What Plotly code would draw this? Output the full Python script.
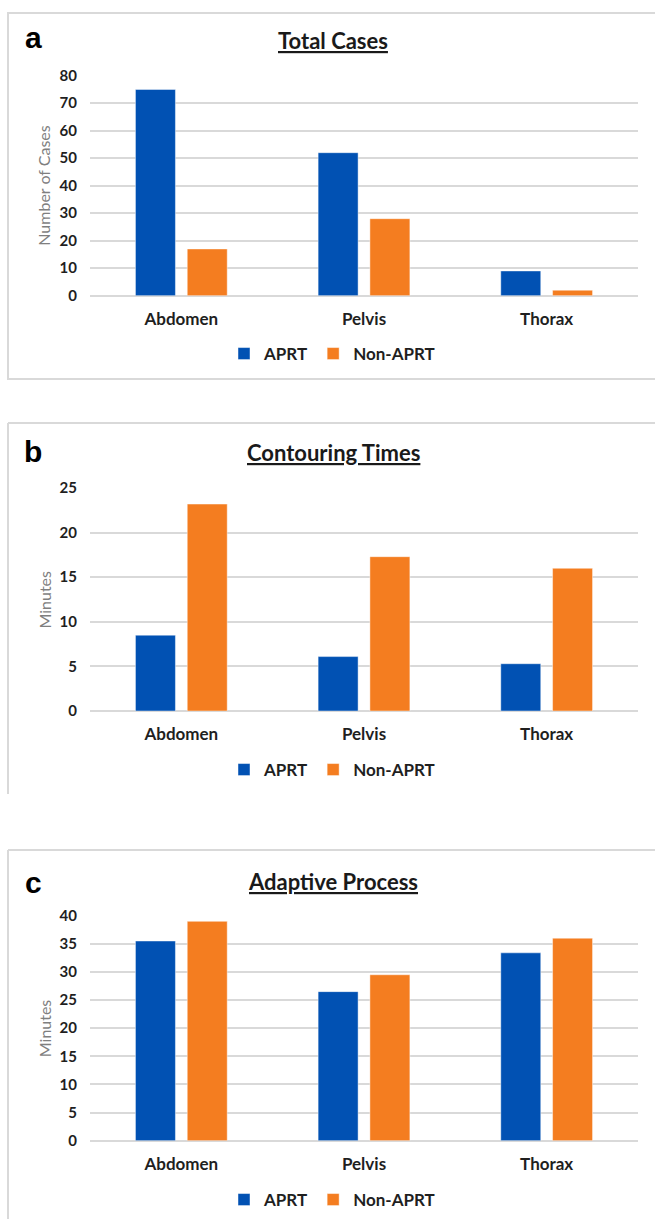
import plotly.graph_objects as go

W, H = 655, 1219

categories = ["Abdomen", "Pelvis", "Thorax"]
series_names = ["APRT", "Non-APRT"]

total_aprt = [75, 52, 9]
total_non = [17, 28, 2]
contour_aprt = [8.5, 6.1, 5.3]
contour_non = [23.2, 17.3, 16.0]
adaptive_aprt = [35.5, 26.5, 33.4]
adaptive_non = [39.0, 29.5, 36.0]

titles = ["Total Cases", "Contouring Times", "Adaptive Process"]
letters = ["a", "b", "c"]
ytitles = ["Number of Cases", "Minutes", "Minutes"]
yranges = [[0, 80], [0, 25], [0, 40]]
ydticks = [10, 5, 5]

BLUE = "#0151B3"
ORANGE = "#F47D20"
GRID = "#D9D9D9"
FONT = "Lato, 'Open Sans', sans-serif"

panels = [
    dict(top=75.7, bot=295.7, ty=41, ly=38, lgy=354, box=(13, 379), closed=True),
    dict(top=488, bot=711, ty=453, ly=451, lgy=770, box=(423, 794), closed=False),
    dict(top=915.7, bot=1140.7, ty=881, ly=882, lgy=1200, box=(850, 1230), closed=False),
]
X0, X1 = 90, 638

def fx(px):
    return px / W

def fy(py):
    return 1 - py / H

data_sets = [(total_aprt, total_non), (contour_aprt, contour_non), (adaptive_aprt, adaptive_non)]

fig = go.Figure()
layout = dict(
    width=W, height=H, autosize=False,
    margin=dict(l=0, r=0, t=0, b=0, pad=0, autoexpand=False),
    paper_bgcolor="white", plot_bgcolor="white",
    barmode="group", bargap=0.433, bargroupgap=0.228,
    showlegend=True,
    font=dict(family=FONT, color="#262626"),
)
annotations = []
shapes = []

for i, (p, (a_vals, n_vals)) in enumerate(zip(panels, data_sets)):
    k = "" if i == 0 else str(i + 1)
    xa, ya = "x" + k, "y" + k
    lg = "legend" + k
    for name, vals, col in [(series_names[0], a_vals, BLUE), (series_names[1], n_vals, ORANGE)]:
        fig.add_trace(go.Bar(
            x=categories, y=vals, name=name, xaxis=xa, yaxis=ya, legend=lg,
            marker=dict(color=col, line=dict(color="rgba(255,255,255,0.45)", width=1)),
        ))
    layout["xaxis" + k] = dict(
        domain=[fx(X0), fx(X1)], anchor=ya, showgrid=False, zeroline=False,
        showline=False, ticks="", ticklabelstandoff=11, automargin=False,
        tickfont=dict(family=FONT, size=17, color="#1f1f1f", weight="bold"),
        fixedrange=True,
    )
    layout["yaxis" + k] = dict(
        domain=[fy(p["bot"]), fy(p["top"])], anchor=xa, range=yranges[i],
        dtick=ydticks[i], tick0=0, showgrid=True, gridcolor=GRID, gridwidth=2,
        zeroline=True, zerolinecolor=GRID, zerolinewidth=2, showline=False,
        ticks="", ticklabelstandoff=12, automargin=False,
        tickfont=dict(family=FONT, size=15, color="#1f1f1f", weight="bold"),
        fixedrange=True,
    )
    layout[lg] = dict(
        orientation="h", x=fx(332), y=fy(p["lgy"]), xanchor="center", yanchor="middle",
        xref="paper", yref="paper",
        font=dict(family=FONT, size=17, color="#1f1f1f", weight="bold"),
        itemwidth=30, traceorder="normal", bgcolor="rgba(0,0,0,0)",
    )
    annotations.append(dict(
        text="<b><u>" + titles[i] + "</u></b>", x=fx(333), y=fy(p["ty"]),
        xref="paper", yref="paper", xanchor="center", yanchor="middle", showarrow=False,
        font=dict(family=FONT, size=22, color="#1a1a1a"),
    ))
    annotations.append(dict(
        text="<b>" + letters[i] + "</b>", x=fx(33), y=fy(p["ly"]),
        xref="paper", yref="paper", xanchor="center", yanchor="middle", showarrow=False,
        font=dict(family="Liberation Sans, Arial, sans-serif", size=30, color="black"),
    ))
    annotations.append(dict(
        text=ytitles[i], x=fx(44), y=fy((p["top"] + p["bot"]) / 2),
        xref="paper", yref="paper", xanchor="center", yanchor="middle", showarrow=False,
        textangle=-90, font=dict(family=FONT, size=16, color="#7f7f7f"),
    ))
    bt, bb = p["box"]
    if p["closed"]:
        shapes.append(dict(type="rect", xref="paper", yref="paper",
                           x0=fx(8), x1=fx(700), y0=fy(bb), y1=fy(bt),
                           line=dict(color=GRID, width=2), fillcolor="rgba(0,0,0,0)", layer="below"))
    else:
        shapes.append(dict(type="line", xref="paper", yref="paper",
                           x0=fx(8), x1=fx(700), y0=fy(bt), y1=fy(bt),
                           line=dict(color=GRID, width=2), layer="below"))
        shapes.append(dict(type="line", xref="paper", yref="paper",
                           x0=fx(8), x1=fx(8), y0=fy(bt), y1=fy(bb),
                           line=dict(color=GRID, width=2), layer="below"))

layout["annotations"] = annotations
layout["shapes"] = shapes
fig.update_layout(**layout)

post = (
    "document.documentElement.style.margin='0';"
    "document.documentElement.style.overflow='hidden';"
    "document.body.style.margin='0';"
    "document.body.style.padding='0';"
    "document.body.style.overflow='hidden';"
    "var g=document.getElementById('{plot_id}');"
    "g.style.position='absolute';g.style.left='0px';g.style.top='0px';"
)
fig.write_html("out.html", config={"displayModeBar": False}, post_script=post)
